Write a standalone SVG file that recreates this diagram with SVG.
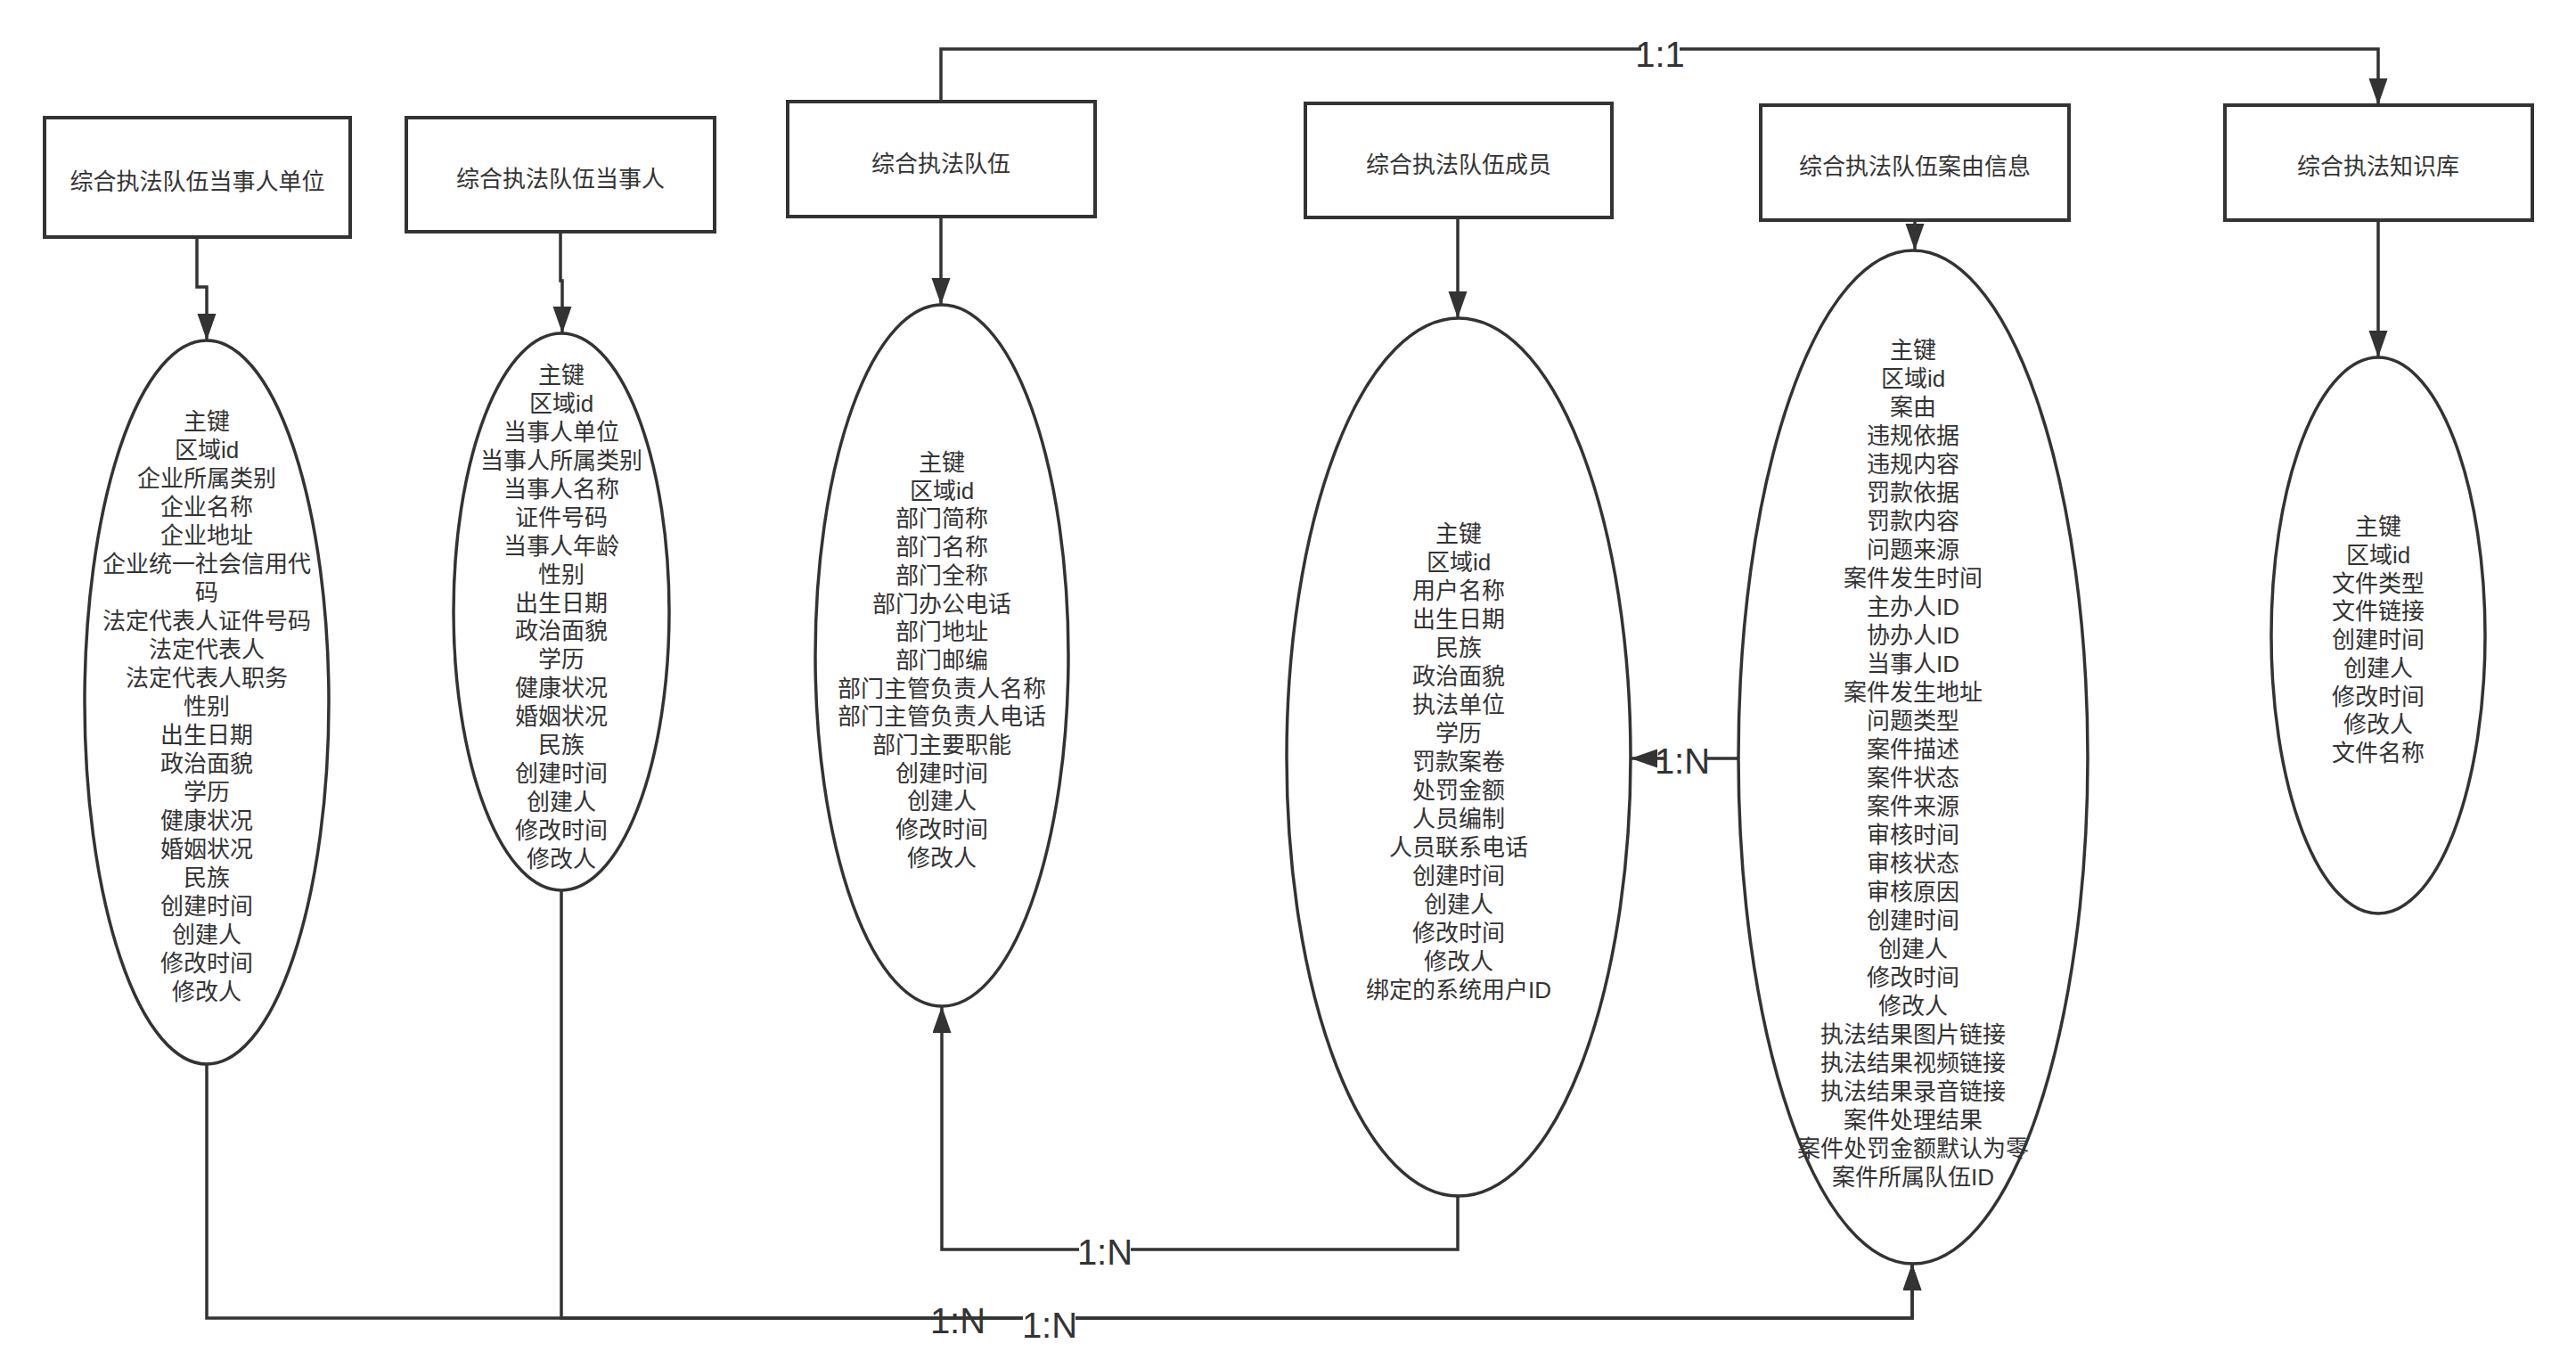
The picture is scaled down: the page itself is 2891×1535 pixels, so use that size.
<svg xmlns="http://www.w3.org/2000/svg" width="2891" height="1535" viewBox="0 0 2891 1535">
<defs>
<style>
.box{fill:#fff;stroke:#333;stroke-width:4}
.ell{fill:#fff;stroke:#333;stroke-width:3.5}
.t{font-family:"Liberation Sans","Noto Sans CJK SC",sans-serif;font-size:26px;fill:#333;text-anchor:middle}
.lbl{font-family:"Liberation Sans","Noto Sans CJK SC",sans-serif;font-size:40px;fill:#333;text-anchor:middle}
.c{fill:none;stroke:#333;stroke-width:3.5}
.bg{fill:#fff}
</style>
<marker id="arr" markerUnits="userSpaceOnUse" markerWidth="32" markerHeight="22" refX="30" refY="10.5" orient="auto">
<path d="M0,0 L30,10.5 L0,21 z" fill="#333"/>
</marker>
</defs>
<rect width="2891" height="1535" fill="#fff"/>

<g id="connectors">
<path class="c" d="M221,266 V322 H232 V382" marker-end="url(#arr)"/>
<path class="c" d="M629,260 V315 H631 V374" marker-end="url(#arr)"/>
<path class="c" d="M1056,243 V342" marker-end="url(#arr)"/>
<path class="c" d="M1636,244 V357" marker-end="url(#arr)"/>
<path class="c" d="M2149,247 V281" marker-end="url(#arr)"/>
<path class="c" d="M2669,247 V401" marker-end="url(#arr)"/>
<path class="c" d="M1056,114 V55 H2669 V118" marker-end="url(#arr)"/>
<path class="c" d="M1636,1342 V1402 H1057 V1129" marker-end="url(#arr)"/>
<path class="c" d="M1950,851 H1830" marker-end="url(#arr)"/>
<path class="c" d="M232,1194 V1479 H2146 V1418" marker-end="url(#arr)"/>
<path class="c" d="M630,999 V1479 H2146 V1418" marker-end="url(#arr)"/>
<rect class="bg" x="1842" y="40" width="43" height="36"/>
<text class="lbl" x="1863" y="75">1:1</text>
<rect class="bg" x="1211" y="1386" width="58" height="36"/>
<text class="lbl" x="1240" y="1419">1:N</text>
<rect class="bg" x="1866" y="838" width="50" height="10"/>
<rect class="bg" x="1870" y="848" width="46" height="25"/>
<text class="lbl" x="1888" y="868">1:N</text>
<text class="lbl" x="1075" y="1496">1:N</text>
<rect class="bg" x="1148" y="1466" width="59" height="38"/>
<text class="lbl" x="1178" y="1501">1:N</text>
</g>

<g id="box-dsrdw">
<rect class="box" x="50" y="132" width="343" height="134"/>
<text class="t" x="221.5" y="213">综合执法队伍当事人单位</text>
</g>
<g id="box-dsr">
<rect class="box" x="456" y="132" width="346" height="128"/>
<text class="t" x="629" y="210">综合执法队伍当事人</text>
</g>
<g id="box-dw">
<rect class="box" x="884" y="114" width="345" height="129"/>
<text class="t" x="1056" y="193">综合执法队伍</text>
</g>
<g id="box-cy">
<rect class="box" x="1465" y="116" width="344" height="128"/>
<text class="t" x="1637" y="194">综合执法队伍成员</text>
</g>
<g id="box-ay">
<rect class="box" x="1976" y="118" width="346" height="129"/>
<text class="t" x="2149" y="196">综合执法队伍案由信息</text>
</g>
<g id="box-zsk">
<rect class="box" x="2497" y="118" width="345" height="129"/>
<text class="t" x="2669" y="196">综合执法知识库</text>
</g>

<g id="ell-dsrdw">
<ellipse class="ell" cx="232" cy="788" rx="137" ry="406"/>
<text class="t" y="482"><tspan x="232">主键</tspan><tspan x="232" dy="32">区域id</tspan><tspan x="232" dy="32">企业所属类别</tspan><tspan x="232" dy="32">企业名称</tspan><tspan x="232" dy="32">企业地址</tspan><tspan x="232" dy="32">企业统一社会信用代</tspan><tspan x="232" dy="32">码</tspan><tspan x="232" dy="32">法定代表人证件号码</tspan><tspan x="232" dy="32">法定代表人</tspan><tspan x="232" dy="32">法定代表人职务</tspan><tspan x="232" dy="32">性别</tspan><tspan x="232" dy="32">出生日期</tspan><tspan x="232" dy="32">政治面貌</tspan><tspan x="232" dy="32">学历</tspan><tspan x="232" dy="32">健康状况</tspan><tspan x="232" dy="32">婚姻状况</tspan><tspan x="232" dy="32">民族</tspan><tspan x="232" dy="32">创建时间</tspan><tspan x="232" dy="32">创建人</tspan><tspan x="232" dy="32">修改时间</tspan><tspan x="232" dy="32">修改人</tspan></text>
</g>

<g id="ell-dsr">
<ellipse class="ell" cx="630" cy="686.5" rx="121" ry="312.5"/>
<text class="t" y="430"><tspan x="630">主键</tspan><tspan x="630" dy="31.94">区域id</tspan><tspan x="630" dy="31.94">当事人单位</tspan><tspan x="630" dy="31.94">当事人所属类别</tspan><tspan x="630" dy="31.94">当事人名称</tspan><tspan x="630" dy="31.94">证件号码</tspan><tspan x="630" dy="31.94">当事人年龄</tspan><tspan x="630" dy="31.94">性别</tspan><tspan x="630" dy="31.94">出生日期</tspan><tspan x="630" dy="31.94">政治面貌</tspan><tspan x="630" dy="31.94">学历</tspan><tspan x="630" dy="31.94">健康状况</tspan><tspan x="630" dy="31.94">婚姻状况</tspan><tspan x="630" dy="31.94">民族</tspan><tspan x="630" dy="31.94">创建时间</tspan><tspan x="630" dy="31.94">创建人</tspan><tspan x="630" dy="31.94">修改时间</tspan><tspan x="630" dy="31.94">修改人</tspan></text>
</g>

<g id="ell-dw">
<ellipse class="ell" cx="1057" cy="735.5" rx="142" ry="393.5"/>
<text class="t" y="528"><tspan x="1057">主键</tspan><tspan x="1057" dy="31.7">区域id</tspan><tspan x="1057" dy="31.7">部门简称</tspan><tspan x="1057" dy="31.7">部门名称</tspan><tspan x="1057" dy="31.7">部门全称</tspan><tspan x="1057" dy="31.7">部门办公电话</tspan><tspan x="1057" dy="31.7">部门地址</tspan><tspan x="1057" dy="31.7">部门邮编</tspan><tspan x="1057" dy="31.7">部门主管负责人名称</tspan><tspan x="1057" dy="31.7">部门主管负责人电话</tspan><tspan x="1057" dy="31.7">部门主要职能</tspan><tspan x="1057" dy="31.7">创建时间</tspan><tspan x="1057" dy="31.7">创建人</tspan><tspan x="1057" dy="31.7">修改时间</tspan><tspan x="1057" dy="31.7">修改人</tspan></text>
</g>

<g id="ell-cy">
<ellipse class="ell" cx="1637" cy="849.5" rx="193" ry="492.5"/>
<text class="t" y="608"><tspan x="1637">主键</tspan><tspan x="1637" dy="32">区域id</tspan><tspan x="1637" dy="32">用户名称</tspan><tspan x="1637" dy="32">出生日期</tspan><tspan x="1637" dy="32">民族</tspan><tspan x="1637" dy="32">政治面貌</tspan><tspan x="1637" dy="32">执法单位</tspan><tspan x="1637" dy="32">学历</tspan><tspan x="1637" dy="32">罚款案卷</tspan><tspan x="1637" dy="32">处罚金额</tspan><tspan x="1637" dy="32">人员编制</tspan><tspan x="1637" dy="32">人员联系电话</tspan><tspan x="1637" dy="32">创建时间</tspan><tspan x="1637" dy="32">创建人</tspan><tspan x="1637" dy="32">修改时间</tspan><tspan x="1637" dy="32">修改人</tspan><tspan x="1637" dy="32">绑定的系统用户ID</tspan></text>
</g>

<g id="ell-ay">
<ellipse class="ell" cx="2147" cy="849.5" rx="196" ry="568.5"/>
<text class="t" y="402"><tspan x="2147">主键</tspan><tspan x="2147" dy="32">区域id</tspan><tspan x="2147" dy="32">案由</tspan><tspan x="2147" dy="32">违规依据</tspan><tspan x="2147" dy="32">违规内容</tspan><tspan x="2147" dy="32">罚款依据</tspan><tspan x="2147" dy="32">罚款内容</tspan><tspan x="2147" dy="32">问题来源</tspan><tspan x="2147" dy="32">案件发生时间</tspan><tspan x="2147" dy="32">主办人ID</tspan><tspan x="2147" dy="32">协办人ID</tspan><tspan x="2147" dy="32">当事人ID</tspan><tspan x="2147" dy="32">案件发生地址</tspan><tspan x="2147" dy="32">问题类型</tspan><tspan x="2147" dy="32">案件描述</tspan><tspan x="2147" dy="32">案件状态</tspan><tspan x="2147" dy="32">案件来源</tspan><tspan x="2147" dy="32">审核时间</tspan><tspan x="2147" dy="32">审核状态</tspan><tspan x="2147" dy="32">审核原因</tspan><tspan x="2147" dy="32">创建时间</tspan><tspan x="2147" dy="32">创建人</tspan><tspan x="2147" dy="32">修改时间</tspan><tspan x="2147" dy="32">修改人</tspan><tspan x="2147" dy="32">执法结果图片链接</tspan><tspan x="2147" dy="32">执法结果视频链接</tspan><tspan x="2147" dy="32">执法结果录音链接</tspan><tspan x="2147" dy="32">案件处理结果</tspan><tspan x="2147" dy="32">案件处罚金额默认为零</tspan><tspan x="2147" dy="32">案件所属队伍ID</tspan></text>
</g>

<g id="ell-zsk">
<ellipse class="ell" cx="2669" cy="713" rx="120" ry="312"/>
<text class="t" y="600"><tspan x="2669">主键</tspan><tspan x="2669" dy="31.75">区域id</tspan><tspan x="2669" dy="31.75">文件类型</tspan><tspan x="2669" dy="31.75">文件链接</tspan><tspan x="2669" dy="31.75">创建时间</tspan><tspan x="2669" dy="31.75">创建人</tspan><tspan x="2669" dy="31.75">修改时间</tspan><tspan x="2669" dy="31.75">修改人</tspan><tspan x="2669" dy="31.75">文件名称</tspan></text>
</g>
</svg>
